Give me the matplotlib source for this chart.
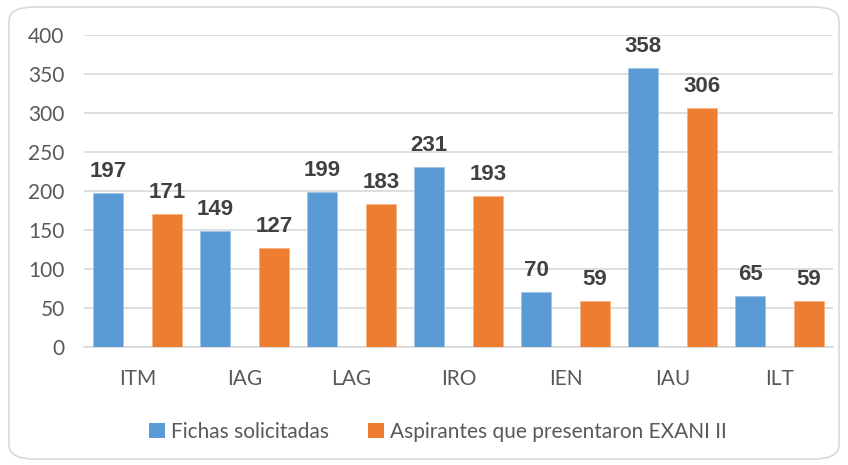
import numpy as np
import matplotlib
matplotlib.use('Agg')
import matplotlib.pyplot as plt
from matplotlib.patches import FancyBboxPatch, Patch

categories = ['ITM', 'IAG', 'LAG', 'IRO', 'IEN', 'IAU', 'ILT']
fichas = [197, 149, 199, 231, 70, 358, 65]
aspirantes = [171, 127, 183, 193, 59, 306, 59]
series_names = ['Fichas solicitadas', 'Aspirantes que presentaron EXANI II']

BLUE = '#5b9bd5'
ORANGE = '#ed7d31'
TXT = '#595959'

fig = plt.figure(figsize=(8.48, 4.65), dpi=100)
ax = fig.add_axes([84 / 848, 1 - 347 / 465, (833 - 84) / 848, (347 - 35) / 465])

# rounded border around the whole chart
border = FancyBboxPatch((9 / 848, 6 / 465), 830 / 848, 452 / 465,
                        boxstyle='round,pad=0,rounding_size=0.03',
                        transform=fig.transFigure, facecolor='none',
                        edgecolor='#d9d9d9', linewidth=1.2)
fig.patches.append(border)

x = np.arange(len(categories))
w = 0.275
off = 0.275
b1 = ax.bar(x - off, fichas, w, color=BLUE, edgecolor='#9dc3e6', linewidth=0.6, zorder=3)
b2 = ax.bar(x + off, aspirantes, w, color=ORANGE, edgecolor='#f4b183', linewidth=0.6, zorder=3)

for bars, vals in ((b1, fichas), (b2, aspirantes)):
    for rect, v in zip(bars, vals):
        ax.annotate(str(v), (rect.get_x() + rect.get_width() / 2, v),
                    xytext=(0, 8), textcoords='offset points',
                    ha='center', va='bottom', fontsize=16, fontweight='bold',
                    color='#404040', family='Liberation Sans')

ax.set_xlim(-0.5, len(categories) - 0.5)
ax.set_ylim(0, 400)
ax.set_yticks(range(0, 401, 50))
ax.set_xticks(x)
ax.set_xticklabels(categories)
ax.yaxis.grid(True, color='#d9d9d9', linewidth=1.2, zorder=0)
ax.set_axisbelow(True)
for s in ['top', 'right', 'left']:
    ax.spines[s].set_visible(False)
ax.spines['bottom'].set_color('#d9d9d9')
ax.spines['bottom'].set_linewidth(1.2)
ax.tick_params(axis='both', length=0, labelsize=15, colors=TXT)
ax.tick_params(axis='x', pad=16)
ax.tick_params(axis='y', pad=14)
for lbl in ax.get_xticklabels() + ax.get_yticklabels():
    lbl.set_family('Lato')

handles = [Patch(facecolor=BLUE), Patch(facecolor=ORANGE)]
leg = fig.legend(handles, series_names, loc='center', bbox_to_anchor=(438 / 848, 1 - 432 / 465),
                 ncol=2, frameon=False, handlelength=0.75, handleheight=0.75,
                 handletextpad=0.3, columnspacing=1.9,
                 prop={'family': 'Lato', 'size': 15})
for t in leg.get_texts():
    t.set_color(TXT)

fig.savefig('out.png', dpi=100)
